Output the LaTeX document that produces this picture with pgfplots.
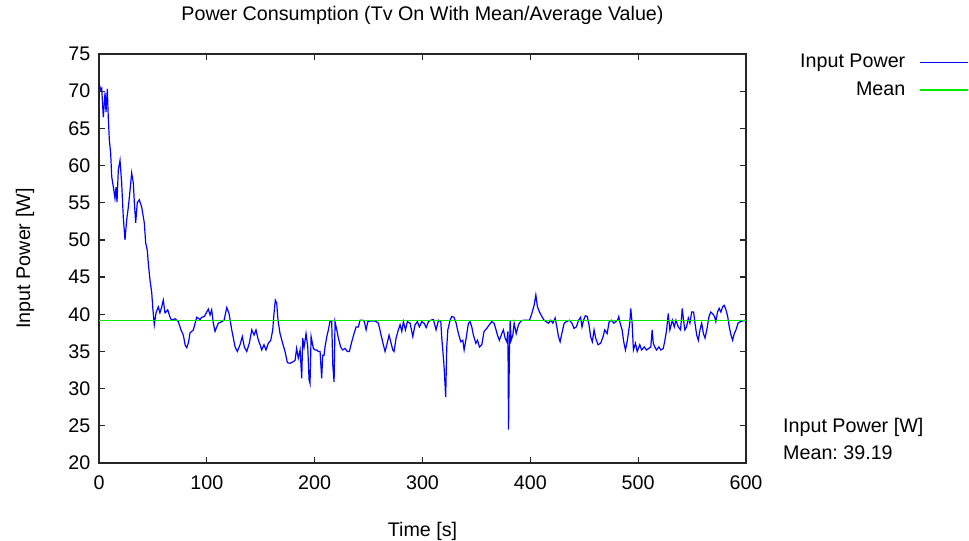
\documentclass[border=0pt]{standalone}
\usepackage{pgfplots}
\pgfplotsset{compat=1.18}
\usepackage{fontspec}
\setmainfont{Liberation Sans}
\definecolor{meangreen}{RGB}{0,235,0}
\definecolor{pblue}{RGB}{0,0,255}
\begin{document}
\frenchspacing
\fontsize{19.7bp}{24bp}\selectfont
\begin{tikzpicture}
\useasboundingbox (0bp,0bp) rectangle (969bp,541bp);
\begin{axis}[
  at={(99bp,78bp)}, anchor=south west,
  scale only axis, width=647bp, height=409bp,
  xmin=0, xmax=600, ymin=20, ymax=75,
  xtick={0,100,...,600}, ytick={20,25,...,75},
  tick align=inside, major tick length=6bp,
  xtick pos=both, ytick pos=both,
  axis line style={black!85, line width=1.3bp},
  tick style={black!85, line width=1.2bp},
  /pgf/number format/assume math mode=true,
  xticklabel style={yshift=-6bp},
  yticklabel style={xshift=-2bp},
  title={Power Consumption (Tv On With Mean/Average Value)},
  title style={at={(axis description cs:0.5,1.079)}, anchor=center},
  xlabel={Time [s]},
  xlabel style={at={(axis description cs:0.5,-0.168)}, anchor=center},
  ylabel={Input Power [W]},
  ylabel style={at={(axis description cs:-0.1144,0.5)}, anchor=center},
  legend plot pos=right,
  legend cell align=right,
  legend style={draw=none, fill=none, inner sep=0pt, at={(rel axis cs:1.3447,1.005)}, anchor=north east, row sep=7bp, /tikz/every odd column/.style={column sep=12bp}},
  legend image code/.code={\draw[#1, line width=1.5bp] (0bp,0bp) -- (48bp,0bp);},
]
\addplot[pblue, line width=1.2bp] coordinates {
(0,71.1) (1.5,70.2) (2.5,70.4) (4,66.5) (5.6,69.8) (6.5,67.2) (7.7,70.3) (8.6,66.5) (9.6,63.4) (10.8,61.7)
(11.8,58.5) (13.3,57.1) (14.8,55.6) (15.8,57.1) (16.7,55.1) (17.9,59.4) (19.5,60.7) (21,57.7) (22.5,53.1) (24.1,50.0)
(25.7,52.7) (27.2,54.4) (28.8,56.7) (30.3,59.0) (31.8,57.7) (32.8,55.0) (34,52.3) (35.5,55.0) (37.4,55.4) (39.6,54.4)
(42,52.3) (43.3,49.6) (44.8,48.6) (45.7,46.9) (47.3,44.6) (48.9,42.9) (49.8,41.0) (51.3,38.6) (52.9,40.2) (55,41.0)
(56.5,40.2) (58.2,41.0) (59.6,41.9) (61.2,40.2) (62.1,40.3) (63.7,40.6) (65.9,39.6) (67.4,39.2) (70.5,39.4) (73.6,39.0)
(76,37.9) (78.2,37.2) (80,35.8) (81.4,35.5) (83,36.2) (84.4,37.5) (87.5,37.9) (90.6,39.6) (93.7,39.3) (95.3,39.6)
(97.7,39.7) (101.4,40.7) (103,39.9) (104.5,40.6) (106,38.8) (107.6,37.7) (109.2,38.3) (110.7,38.8) (113.8,39.0) (116,39.2)
(118.5,40.9) (120.6,40.1) (123.1,37.9) (124.6,36.8) (126.2,35.6) (128.3,35.0) (130.8,35.9) (132.9,37.0) (134.8,35.6) (137,35.0)
(139.4,36.1) (141.7,37.9) (143.8,37.2) (145.6,37.9) (147.8,36.5) (149.4,35.9) (150.9,35.2) (153,35.9) (154.9,35.2) (157,36.1)
(159.3,36.5) (161.1,37.9) (162.3,40.1) (163.5,41.9) (164.8,41.5) (166,39.2) (167.9,37.4) (170.3,36.1) (172.5,35.0) (174.7,33.5)
(177.2,33.4) (179.7,33.6) (181.8,33.8) (183.3,35.4) (184.8,34.1) (186.5,35.2) (188,31.4) (188.9,36.8) (190.2,35.6) (192,37.4)
(193.6,35.6) (194.8,31.2) (195.7,30.7) (196.7,37.0) (198.8,35.4) (200.4,35.2) (201.9,35.2) (203.4,35.0) (205,35.0) (206.5,31.4)
(207.5,34.5) (208.7,34.5) (209.6,35.6) (211,36.8) (212.7,37.9) (214.3,39.1) (215.8,39.0) (216.8,33.2) (218,30.9) (218.9,39.0)
(220.5,37.9) (222,36.8) (224.1,35.6) (226,35.2) (228.2,35.4) (230.3,35.0) (232.2,35.0) (234.4,36.3) (236.5,37.4) (238.4,38.3)
(240.5,38.3) (242.1,39.2) (244.6,39.2) (246.1,39.0) (247.7,37.9) (249.3,39.0) (251.4,39.1) (256,39.1) (259.1,38.8) (261.3,37.4)
(263.7,35.9) (265.3,35.0) (266.9,35.9) (269,37.2) (270.9,36.1) (272.4,35.2) (273.6,35.0) (275.5,36.8) (277.6,37.9) (279.2,38.6)
(280.8,37.7) (282.3,39.0) (284.2,37.9) (286,39.0) (288.5,38.8) (291,37.0) (293.1,38.6) (295.2,39.0) (297.1,38.3) (299.3,39.0)
(301.5,38.8) (303.4,38.2) (305.5,39.0) (307.7,39.2) (310.1,39.3) (312.6,37.9) (314.8,39.2) (317,39.0) (317.8,37.0) (319.9,33.2)
(321.5,28.9) (322.5,35.6) (323.5,37.9) (325.6,39.2) (327.1,39.7) (329.2,39.6) (331.2,38.8) (333.3,37.4) (335.5,36.3) (337.4,36.5)
(338.6,35.2) (340.5,36.8) (342.6,38.8) (344.2,39.0) (345.7,38.3) (347.2,37.2) (349.5,36.1) (351,36.5) (352.8,35.6) (355,35.9)
(357.1,37.7) (359.6,38.1) (362,38.6) (364.2,39.0) (366.4,38.8) (368.2,37.9) (369.5,37.2) (371.3,36.5) (373.5,37.4) (375,37.9)
(376.6,36.8) (378.2,36.3) (379.2,37.7) (379.8,24.5) (380.5,34.0) (381.3,39.2) (382.2,36.5) (383.8,37.2) (385,38.8) (386.9,37.4)
(389,38.6) (391.3,39.1) (393.6,39.2) (396.7,39.2) (399.2,39.2) (401.4,40.1) (403.5,41.2) (405.1,42.6) (406.6,41.0) (408.5,40.3)
(410.7,39.7) (412.8,39.2) (414.7,39.0) (416.8,38.8) (419,39.2) (420.9,38.8) (423,39.5) (424.6,38.3) (426.1,37.0) (427.6,36.3)
(429.2,37.4) (431.4,38.8) (433.3,39.0) (436.3,39.2) (438.6,38.8) (440.5,38.1) (442.6,38.3) (444.8,39.2) (446.6,39.6) (447.9,38.3)
(449.4,39.2) (451,39.8) (452.8,39.7) (454.4,38.6) (455.9,37.0) (457.5,36.3) (459.1,37.9) (460.6,36.8) (462.8,35.9) (465.2,36.1)
(467.5,37.0) (469,37.9) (471.2,37.4) (473.1,39.0) (475.2,39.2) (477.4,38.8) (479.2,39.0) (480.8,39.2) (482,39.7) (483.3,38.8)
(485.1,37.9) (486.6,36.3) (488.2,35.2) (490,36.5) (492.2,38.8) (493.1,40.8) (494.4,38.8) (495.6,35.2) (497.5,36.1) (499.1,35.0)
(501.5,35.9) (503.2,35.2) (505.6,35.6) (507.7,35.2) (509.8,35.4) (511.7,35.6) (513,37.9) (514,36.1) (515.5,35.6) (517,35.2)
(519.2,35.6) (521,35.2) (523.3,35.4) (524.8,36.5) (526.4,37.9) (527.9,40.1) (529.4,37.9) (531.7,39.2) (533.5,38.3) (535,39.2)
(537.2,38.3) (539.3,37.9) (540.9,40.8) (542.1,39.2) (543.3,37.9) (544.9,38.3) (546.5,39.5) (548,38.8) (549.6,40.3) (551.4,40.3)
(552.7,38.8) (554.3,37.2) (555.8,36.5) (557.3,37.9) (558.9,38.8) (560.5,37.4) (562,36.8) (563.9,38.1) (565.7,39.7) (567.3,40.3)
(568.9,40.1) (570.8,39.7) (572,39.0) (573.6,40.3) (575.1,40.8) (576.7,40.3) (578.3,41.0) (579.8,41.2) (581.4,40.6) (583,39.7)
(584.5,38.3) (586.1,37.2) (587.6,36.5) (589.1,37.4) (590.7,37.9) (592.6,38.8) (594.7,39.0) (596.9,39.1) (599.3,39.2) (600,38.8)
};
\addlegendentry{Input Power}
\addplot[meangreen, line width=1.3bp] coordinates {(0,39.19) (600,39.19)};
\addlegendentry{Mean}
\end{axis}
\node[anchor=west, inner sep=0pt] at (783bp,114bp) {Input Power [W]};
\node[anchor=west, inner sep=0pt] at (783bp,88bp) {Mean: 39.19};
\end{tikzpicture}
\end{document}
